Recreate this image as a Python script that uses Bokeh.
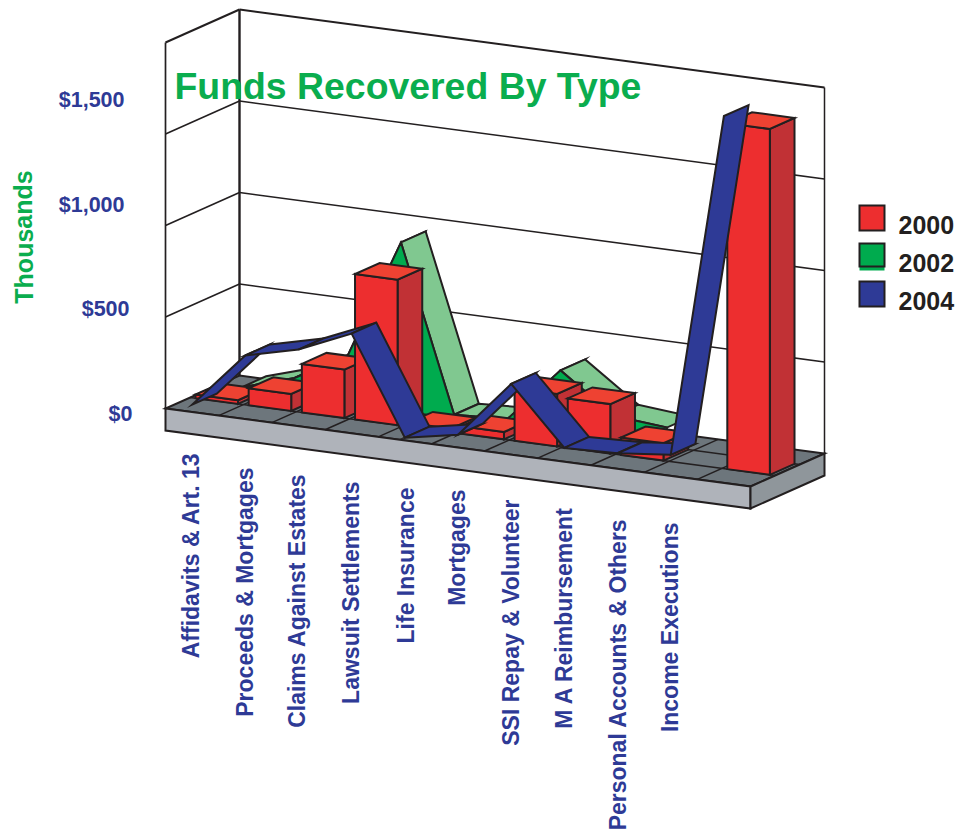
from bokeh.plotting import figure
from bokeh.embed import file_html
from bokeh.resources import INLINE
from bokeh.core.properties import value

# Recovered funds by category (thousands of dollars)
categories = ["Affidavits & Art. 13", "Proceeds & Mortgages", "Claims Against Estates",
              "Lawsuit Settlements", "Life Insurance", "Mortgages", "SSI Repay & Volunteer",
              "M A Reimbursement", "Personal Accounts & Others", "Income Executions", ""]
series_2000 = [20, 93, 265, 795, 20, 40, 287, 270, 95, None, 1890]
series_2002 = [15, 105, 267, 923, 20, 35, 340, 131, 105, None, None]
series_2004 = [40, 348, 419, 545, 15, 70, 386, 75, 85, 115, 2005]
legend_years = ["2000", "2002", "2004"]
grid_values = [500, 1000, 1500, 2000]
tick_values = [0, 500, 1000, 1500]
tick_labels = ["$0", "$500", "$1,000", "$1,500"]

RED, RED_TOP, RED_SIDE = "#ED2E2F", "#EE4232", "#C13135"
GREEN, GREEN_TOP = "#00AB4E", "#80C890"
BLUE = "#2E3A96"
INK = "#231F20"
FLOOR_TOP, FLOOR_FRONT, FLOOR_SIDE = "#6D767C", "#AFB3BA", "#8F969B"
TITLE_GREEN = "#0AAD4E"

# Oblique projection: u runs along the categories, d into the depth, v upward.
ORIGIN_X, ORIGIN_Y = 165.0, 408.0
U_DX, U_DY = 585.0 / 11, 78.0 / 11
D_DX, D_DY = 74.0, -33.0
V_SCALE = 366.0 / 2000
SLAB = 22.0
N_CATS = 11


def proj(u, d, v=0.0):
    return (ORIGIN_X + u * U_DX + d * D_DX,
            ORIGIN_Y + u * U_DY + d * D_DY - v * V_SCALE)


p = figure(width=965, height=833, x_range=(0, 965), y_range=(833, 0),
           output_backend="svg", toolbar_location=None, min_border=0)
p.axis.visible = False
p.grid.visible = False
p.outline_line_color = None
p.background_fill_color = "white"
p.border_fill_color = "white"


def poly(points, fill, width=2.0):
    xs = [pt[0] for pt in points]
    ys = [pt[1] for pt in points]
    p.patch(xs, ys, fill_color=fill, line_color=INK, line_width=width, line_join="miter")


def seg(a, b, width=1.7):
    p.line([a[0], b[0]], [a[1], b[1]], line_color=INK, line_width=width)


# Walls and their grid lines
top = grid_values[-1]
for v in grid_values:
    w = 2.0 if v == top else 1.6
    seg(proj(0, 0, v), proj(0, 1, v), w)
    seg(proj(0, 1, v), proj(N_CATS, 1, v), w)
seg(proj(0, 0, 0), proj(0, 0, top), 1.7)
seg(proj(0, 1, 0), proj(0, 1, top), 2.4)
seg(proj(N_CATS, 1, 0), proj(N_CATS, 1, top), 1.5)

# Floor slab
poly([proj(0, 0), proj(N_CATS, 0), proj(N_CATS, 1), proj(0, 1)], FLOOR_TOP)
fl, fr, br = proj(0, 0), proj(N_CATS, 0), proj(N_CATS, 1)
poly([fl, fr, (fr[0], fr[1] + SLAB), (fl[0], fl[1] + SLAB)], FLOOR_FRONT)
poly([fr, br, (br[0], br[1] + SLAB), (fr[0], fr[1] + SLAB)], FLOOR_SIDE)
for i in range(1, N_CATS):
    seg(proj(i, 0), proj(i, 1), 1.5)
for d in (1 / 3, 2 / 3):
    seg(proj(0, d), proj(N_CATS, d), 1.5)

# 2002: area in the back row, peaks at category centres
pts_2002 = [(i + 0.5, v) for i, v in enumerate(series_2002) if v is not None]
for (u0, v0), (u1, v1) in zip(pts_2002, pts_2002[1:]):
    poly([proj(u0, 2 / 3, v0), proj(u0, 1, v0), proj(u1, 1, v1), proj(u1, 2 / 3, v1)], GREEN_TOP)
front = [proj(u, 2 / 3, v) for u, v in pts_2002]
poly(front + [proj(pts_2002[-1][0], 2 / 3), proj(pts_2002[0][0], 2 / 3)], GREEN)

# 2000: columns in the middle row
for i, v in enumerate(series_2000):
    if v is None:
        continue
    u0, u1 = i + 0.1, i + 0.9
    d0, d1 = 1 / 3, 2 / 3
    poly([proj(u1, d0), proj(u1, d1), proj(u1, d1, v), proj(u1, d0, v)], RED_SIDE)
    poly([proj(u0, d0), proj(u1, d0), proj(u1, d0, v), proj(u0, d0, v)], RED)
    poly([proj(u0, d0, v), proj(u1, d0, v), proj(u1, d1, v), proj(u0, d1, v)], RED_TOP)

# 2004: ribbon in the front row
pts_2004 = [(i + 0.5, v) for i, v in enumerate(series_2004)]
for (u0, v0), (u1, v1) in zip(pts_2004, pts_2004[1:]):
    poly([proj(u0, 0, v0), proj(u1, 0, v1), proj(u1, 1 / 3, v1), proj(u0, 1 / 3, v0)], BLUE)

# Value labels
BOLD = value("Liberation Sans")
label_y = [413, 308, 204, 99]
label_right = [132, 129, 124, 124]
p.text(x=label_right, y=label_y, text=tick_labels,
       text_font=BOLD, text_font_style="bold", text_font_size="21.5px",
       text_color=BLUE, text_align="right", text_baseline="middle")

# Category labels, running upward from below the slab
label_x = [190, 244, 296, 350, 405, 456, 510, 563, 617, 669]
label_top = [452, 467, 473, 481, 487, 489, 499, 506, 518, 522]
p.text(x=label_x, y=label_top, text=categories[:len(label_x)], angle=1.5708,
       text_font=BOLD, text_font_style="bold", text_font_size="23px",
       text_color=BLUE, text_align="right", text_baseline="middle")

p.text(x=[23], y=[236.5], text=["Thousands"], angle=1.5708,
       text_font=BOLD, text_font_style="bold", text_font_size="25px",
       text_color=TITLE_GREEN, text_align="center", text_baseline="middle")

p.text(x=[174], y=[85], text=["Funds Recovered By Type"],
       text_font=BOLD, text_font_style="bold", text_font_size="37.4px",
       text_color=TITLE_GREEN, text_align="left", text_baseline="middle")

# Legend
swatch_y = [205, 243, 281]
swatch_h = [25, 23, 25]
for y0, h, fill, year in zip(swatch_y, swatch_h, [RED, GREEN, BLUE], legend_years):
    if fill == GREEN:
        p.patch([859, 884, 884, 859], [y0 + h, y0 + h, y0 + h + 4, y0 + h + 4],
                fill_color=fill, line_color=None)
    poly([(859, y0), (884, y0), (884, y0 + h), (859, y0 + h)], fill)
    p.text(x=[898], y=[y0 + 19.5], text=[year], text_font=BOLD, text_font_style="bold",
           text_font_size="25px", text_color=INK, text_align="left", text_baseline="middle")

open("out.html", "w").write(file_html(p, INLINE))
